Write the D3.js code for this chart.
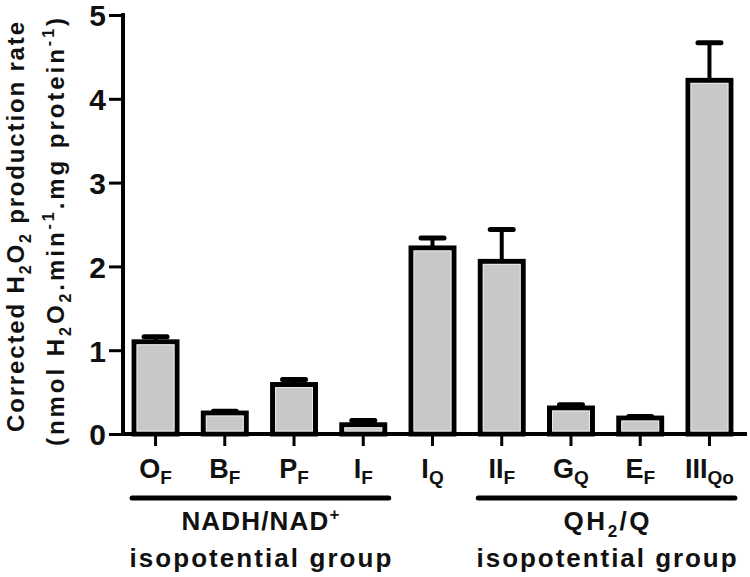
<!DOCTYPE html>
<html lang="en">
<head>
<meta charset="utf-8">
<title>H2O2 production rate</title>
<style>
  body { margin: 0; background: #fff; }
  svg text { font-family: "Liberation Sans", Arial, sans-serif; font-weight: bold; fill: #111; }
</style>
<script src="https://d3js.org/d3.v7.min.js"></script>
</head>
<body>
<script>
// data
var sites = ["OF", "BF", "PF", "IF", "IQ", "IIF", "GQ", "EF", "IIIQo"];
var siteMain = ["O", "B", "P", "I", "I", "II", "G", "E", "III"];
var siteSub = ["F", "F", "F", "F", "Q", "F", "Q", "F", "Qo"];
var rate = [1.10, 0.25, 0.59, 0.11, 2.22, 2.06, 0.31, 0.19, 4.22];
var sem = [0.06, 0.02, 0.06, 0.05, 0.12, 0.38, 0.04, 0.02, 0.45];
var yTicks = [0, 1, 2, 3, 4, 5];
var groups = [
  { first: "OF", last: "IF", line1: [["NADH/NAD", ""], ["+", "sup"]], len1: 158, line2: "isopotential group", len2: 262 },
  { first: "IIF", last: "IIIQo", line1: [["QH", ""], ["2", "sub"], ["/Q", ""]], len1: 86, line2: "isopotential group", len2: 260 }
];
var titleParts = [
  [["Corrected H", ""], ["2", "sub"], ["O", ""], ["2", "sub"], [" production rate", ""]],
  [["(nmol H", ""], ["2", "sub"], ["O", ""], ["2", "sub"], [".min", ""], ["-1", "sup"], [".mg protein", ""], ["-1", "sup"], [")", ""]]
];

var w = 750, h = 577;
var svg = d3.select("body").append("svg")
  .attr("width", w)
  .attr("height", h);

var x = d3.scaleBand()
  .domain(sites)
  .range([123, 742])
  .paddingInner(0.38)
  .paddingOuter(0.16);
var y = d3.scaleLinear()
  .domain([0, 5])
  .range([434, 15]);

// bars
svg.selectAll("rect.bar")
  .data(sites)
  .enter()
  .append("rect")
  .attr("class", "bar")
  .attr("x", d => x(d))
  .attr("y", (d, i) => y(rate[i]))
  .attr("width", x.bandwidth())
  .attr("height", (d, i) => y(0) - y(rate[i]))
  .attr("fill", "#c8c8c8")
  .attr("stroke", "#000")
  .attr("stroke-width", 5);

// faint inner highlight
svg.selectAll("rect.hl")
  .data(sites)
  .enter()
  .append("rect")
  .attr("class", "hl")
  .attr("x", d => x(d) + 3)
  .attr("y", (d, i) => y(rate[i]) + 3)
  .attr("width", x.bandwidth() - 6)
  .attr("height", (d, i) => Math.max(0, y(0) - y(rate[i]) - 6))
  .attr("fill", "none")
  .attr("stroke", "#e8e8e8")
  .attr("stroke-width", 1);

// error bars (upper only)
var eb = svg.selectAll("g.err")
  .data(sites)
  .enter()
  .append("g")
  .attr("class", "err")
  .attr("stroke", "#000")
  .attr("stroke-linecap", "round");
eb.append("line")
  .attr("x1", d => x(d) + x.bandwidth() / 2)
  .attr("x2", d => x(d) + x.bandwidth() / 2)
  .attr("y1", (d, i) => y(rate[i]))
  .attr("y2", (d, i) => y(rate[i] + sem[i]))
  .attr("stroke-width", 4);
eb.append("line")
  .attr("x1", d => x(d) + x.bandwidth() / 2 - 11.5)
  .attr("x2", d => x(d) + x.bandwidth() / 2 + 11.5)
  .attr("y1", (d, i) => y(rate[i] + sem[i]))
  .attr("y2", (d, i) => y(rate[i] + sem[i]))
  .attr("stroke-width", 5);

// axes
var yAxis = d3.axisLeft(y).tickValues(yTicks).tickFormat(d3.format("d")).tickSizeInner(14).tickSizeOuter(0).tickPadding(3);
var gy = svg.append("g")
  .attr("transform", "translate(123,0)")
  .call(yAxis);
gy.select(".domain").attr("stroke", "#000").attr("stroke-width", 4).attr("d", "M0," + (y(0) + 2) + "V" + (y(5) - 2));
gy.selectAll(".tick line").attr("stroke", "#000").attr("stroke-width", 3);
gy.selectAll(".tick text").attr("font-size", 30).attr("fill", "#111").attr("dy", "0.36em");

var xAxis = d3.axisBottom(x).tickSizeInner(12).tickSizeOuter(0);
var gx = svg.append("g")
  .attr("transform", "translate(0," + y(0) + ")")
  .call(xAxis);
gx.select(".domain").attr("stroke", "#000").attr("stroke-width", 4).attr("d", "M121,0H747");
gx.selectAll(".tick line").attr("stroke", "#000").attr("stroke-width", 3);
gx.selectAll(".tick text").each(function (d) {
  var i = sites.indexOf(d);
  var t = d3.select(this).text(null).attr("font-size", 27).attr("fill", "#111").attr("y", 44).attr("dy", 0);
  t.append("tspan").text(siteMain[i]);
  t.append("tspan").attr("font-size", 19).attr("dy", 6).text(siteSub[i]);
});

// group brackets and labels
groups.forEach(function (g) {
  var x1 = x(g.first) - 2, x2 = x(g.last) + x.bandwidth() + 4, cx = (x1 + x2) / 2;
  svg.append("line")
    .attr("x1", x1).attr("x2", x2)
    .attr("y1", 498).attr("y2", 498)
    .attr("stroke", "#000").attr("stroke-width", 5).attr("stroke-linecap", "round");
  var t1 = svg.append("text")
    .attr("x", cx).attr("y", 530)
    .attr("text-anchor", "middle")
    .attr("font-size", 26)
    .attr("textLength", g.len1)
    .attr("lengthAdjust", "spacing");
  var shift = 0;
  g.line1.forEach(function (p) {
    var s = t1.append("tspan").text(p[0]);
    var target = p[1] == "sub" ? 7 : p[1] == "sup" ? -10 : 0;
    if (p[1] != "") s.attr("font-size", 17);
    if (target != shift) s.attr("dy", target - shift);
    shift = target;
  });
  svg.append("text")
    .attr("x", cx).attr("y", 567)
    .attr("text-anchor", "middle")
    .attr("font-size", 26)
    .attr("textLength", g.len2)
    .attr("lengthAdjust", "spacing")
    .text(g.line2);
});

// y axis title, two lines with sub/superscripts
var titleX = [24, 64], titleY = [227, 232], titleLen = [410, 428];
titleParts.forEach(function (parts, k) {
  var t = svg.append("text")
    .attr("transform", "translate(" + titleX[k] + "," + titleY[k] + ") rotate(-90)")
    .attr("text-anchor", "middle")
    .attr("font-size", 24)
    .attr("textLength", titleLen[k])
    .attr("lengthAdjust", "spacing");
  var shift = 0;
  parts.forEach(function (p) {
    var s = t.append("tspan").text(p[0]);
    var target = p[1] == "sub" ? 7 : p[1] == "sup" ? -10 : 0;
    if (p[1] != "") s.attr("font-size", 16);
    if (target != shift) s.attr("dy", target - shift);
    shift = target;
  });
});
</script>
</body>
</html>
